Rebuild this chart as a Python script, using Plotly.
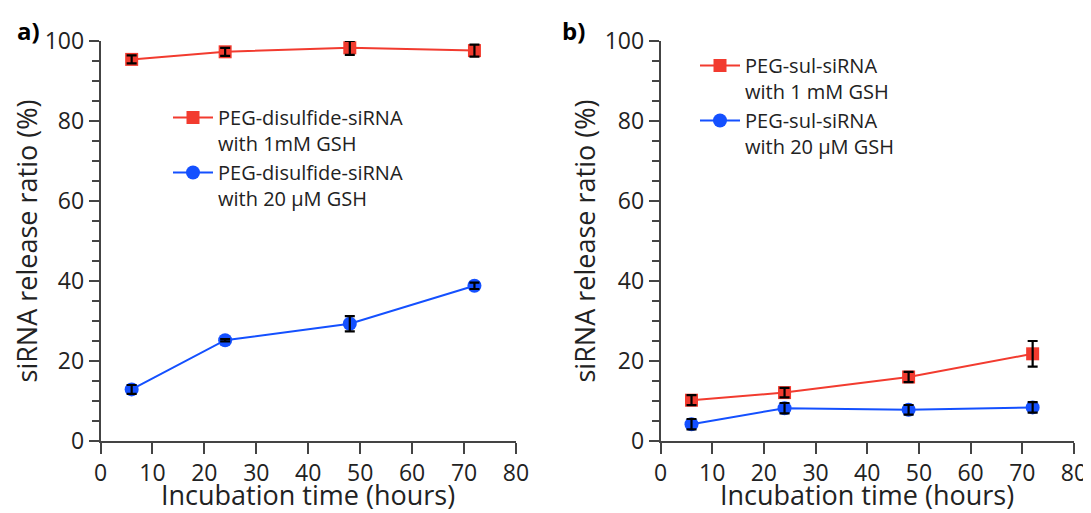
import plotly.graph_objects as go

# incubation times (hours)
time_h = [6, 24, 48, 72]

# panel a) PEG-disulfide-siRNA
a_1mM = [95.4, 97.3, 98.3, 97.6]
a_1mM_err = [1.0, 1.0, 1.75, 1.5]
a_20uM = [12.9, 25.2, 29.3, 38.8]
a_20uM_err = [1.1, 0.3, 1.9, 0.8]

# panel b) PEG-sul-siRNA
b_1mM = [10.2, 12.1, 16.0, 21.8]
b_1mM_err = [1.25, 1.2, 1.3, 3.2]
b_20uM = [4.2, 8.2, 7.8, 8.4]
b_20uM_err = [1.3, 1.3, 1.2, 1.3]

XTITLE = 'Incubation time (hours)'
YTITLE = 'siRNA release ratio (%)'

RED = '#F23B2F'
BLUE = '#1450FF'
AXC = '#444444'
TXT = '#222222'
FONT = 'Open Sans'

W, H = 1091, 513
OFF = 8  # page body margin, the figure starts 8px in


def px(x):
    return (x - OFF) / W


def py(y):
    return 1 - (y - OFF) / H


def series(x, y, name, color, symbol, size, xa, ya, legend):
    return go.Scatter(
        x=x, y=y, name=name,
        mode='lines+markers',
        line=dict(color=color, width=2),
        marker=dict(color=color, symbol=symbol, size=size),
        xaxis=xa, yaxis=ya, legend=legend, cliponaxis=False,
    )


def errbars(x, y, e, xa, ya):
    # separate trace so the black error bars sit on top of the markers
    return go.Scatter(
        x=x, y=y, mode='markers', marker=dict(size=1, opacity=0),
        error_y=dict(type='data', array=e, color='black', thickness=2.2, width=5),
        xaxis=xa, yaxis=ya, showlegend=False, hoverinfo='skip', cliponaxis=False,
    )


fig = go.Figure()
fig.add_trace(series(time_h, a_1mM, 'PEG-disulfide-siRNA<br>with 1mM GSH',
                     RED, 'square', 13, 'x', 'y', 'legend'))
fig.add_trace(series(time_h, a_20uM, 'PEG-disulfide-siRNA<br>with 20 µM GSH',
                     BLUE, 'circle', 14, 'x', 'y', 'legend'))
fig.add_trace(series(time_h, b_1mM, 'PEG-sul-siRNA<br>with 1 mM GSH',
                     RED, 'square', 13, 'x2', 'y2', 'legend2'))
fig.add_trace(series(time_h, b_20uM, 'PEG-sul-siRNA<br>with 20 µM GSH',
                     BLUE, 'circle', 14, 'x2', 'y2', 'legend2'))
fig.add_trace(errbars(time_h, a_1mM, a_1mM_err, 'x', 'y'))
fig.add_trace(errbars(time_h, a_20uM, a_20uM_err, 'x', 'y'))
fig.add_trace(errbars(time_h, b_1mM, b_1mM_err, 'x2', 'y2'))
fig.add_trace(errbars(time_h, b_20uM, b_20uM_err, 'x2', 'y2'))

xdom_a = [px(100.5), px(516)]
xdom_b = [px(660.5), px(1074)]
ydom = [py(441), py(41)]

xaxis = dict(
    range=[0, 80], dtick=10, tick0=0, ticks='outside', ticklen=11, tickwidth=1.5,
    tickcolor=AXC, showline=True, linecolor=AXC, linewidth=1.5,
    showgrid=False, zeroline=False, automargin=False,
    tickfont=dict(size=23, color=TXT),
)
yaxis = dict(
    range=[0, 100], dtick=20, tick0=0, ticks='outside', ticklen=10, tickwidth=1.5,
    tickcolor=AXC, showline=True, linecolor=AXC, linewidth=1.5,
    showgrid=False, zeroline=False, automargin=False,
    minor=dict(dtick=5, ticks='outside', ticklen=7, tickwidth=1.5, tickcolor=AXC, showgrid=False),
    tickfont=dict(size=23, color=TXT),
    title=dict(text=YTITLE, font=dict(size=27, color=TXT), standoff=1),
)

legend_style = dict(
    font=dict(size=20, color=TXT), bgcolor='rgba(0,0,0,0)',
    xanchor='left', yanchor='top', valign='top', tracegroupgap=25,
    itemwidth=40,
)


def xtitle(xref):
    # x-axis title placed just under the tick labels, as in the original figure
    return dict(text=XTITLE, x=0.5, xref=xref, y=py(494), yref='paper',
                xanchor='center', yanchor='middle', showarrow=False,
                font=dict(size=27, color=TXT))


fig.update_layout(
    width=W, height=H,
    font=dict(family=FONT, color=TXT),
    plot_bgcolor='white', paper_bgcolor='white',
    margin=dict(l=0, r=0, t=0, b=0),
    xaxis=dict(xaxis, domain=xdom_a, anchor='y'),
    yaxis=dict(yaxis, domain=ydom, anchor='x'),
    xaxis2=dict(xaxis, domain=xdom_b, anchor='y2'),
    yaxis2=dict(yaxis, domain=ydom, anchor='x2'),
    showlegend=True,
    legend=dict(legend_style, x=px(168), y=py(98)),
    legend2=dict(legend_style, x=px(695), y=py(46)),
    annotations=[
        xtitle('x domain'),
        xtitle('x2 domain'),
        dict(text='<b>a)</b>', x=px(15), y=py(31), xref='paper', yref='paper',
             xanchor='left', yanchor='middle', showarrow=False,
             font=dict(size=24, color='black')),
        dict(text='<b>b)</b>', x=px(560), y=py(31), xref='paper', yref='paper',
             xanchor='left', yanchor='middle', showarrow=False,
             font=dict(size=24, color='black')),
    ],
)

fig.write_html('out.html')
